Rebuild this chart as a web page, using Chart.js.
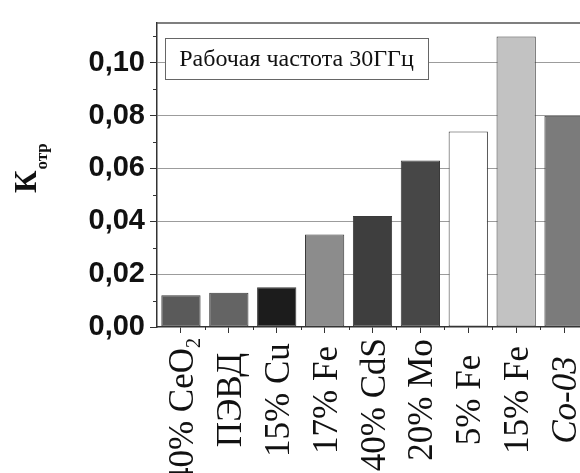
<!DOCTYPE html>
<html>
<head>
<meta charset="utf-8">
<script src="https://cdn.jsdelivr.net/npm/chart.js@4"></script>
<style>
html,body{margin:0;padding:0;background:#fff;overflow:hidden;width:580px;height:473px;}
#wrap{position:absolute;left:0;top:0;width:600px;height:473px;}
</style>
</head>
<body>
<div id="wrap"><canvas id="c" width="600" height="473" style="width:600px;height:473px"></canvas></div>
<script>
const categories = ['40% CeO₂', 'ПЭВД', '15% Cu', '17% Fe', '40% CdS', '20% Mo', '5% Fe', '15% Fe', 'Co-03'];
const italicCategories = ['Co-03'];
const values = [0.012, 0.013, 0.015, 0.035, 0.042, 0.063, 0.074, 0.110, 0.080];
const barColors = ['#5a5a5a', '#646464', '#1c1c1c', '#8c8c8c', '#3e3e3e', '#474747', '#ffffff', '#c2c2c2', '#7b7b7b'];
const yTickValues = [0, 0.02, 0.04, 0.06, 0.08, 0.10];
const yTickLabels = ['0,00', '0,02', '0,04', '0,06', '0,08', '0,10'];
const yMinorValues = [0.01, 0.03, 0.05, 0.07, 0.09, 0.11];
const yTitleMain = 'К';
const yTitleSub = 'отр';
const noteText = 'Рабочая частота 30ГГц';

const serif = '"Liberation Serif", "Times New Roman", serif';
const sans = '"Liberation Sans", Arial, sans-serif';

const decorPlugin = {
  id: 'decor',
  afterDraw(chart) {
    const ctx = chart.ctx;
    const ca = chart.chartArea;
    const xs = chart.scales.x, ys = chart.scales.y;
    ctx.save();
    // top frame line
    ctx.strokeStyle = '#555';
    ctx.lineWidth = 1.5;
    ctx.beginPath();
    ctx.moveTo(ca.left, ca.top + 0.5);
    ctx.lineTo(ca.right, ca.top + 0.5);
    ctx.stroke();
    // y minor ticks
    ctx.strokeStyle = '#333';
    ctx.lineWidth = 1;
    yMinorValues.forEach(v => {
      const y = Math.round(ys.getPixelForValue(v)) + 0.5;
      ctx.beginPath();
      ctx.moveTo(ca.left - 4, y);
      ctx.lineTo(ca.left, y);
      ctx.stroke();
    });
    // x minor ticks at category boundaries
    for (let i = 1; i < categories.length; i++) {
      const x = Math.round((xs.getPixelForValue(i - 1) + xs.getPixelForValue(i)) / 2) + 0.5;
      ctx.beginPath();
      ctx.moveTo(x, ca.bottom);
      ctx.lineTo(x, ca.bottom + 3);
      ctx.stroke();
    }
    // note box
    ctx.fillStyle = '#fff';
    ctx.fillRect(165, 38, 263, 41);
    ctx.strokeStyle = '#666';
    ctx.lineWidth = 1;
    ctx.strokeRect(165.5, 38.5, 263, 41);
    ctx.fillStyle = '#111';
    ctx.font = '24px ' + serif;
    ctx.textAlign = 'center';
    ctx.textBaseline = 'alphabetic';
    ctx.fillText(noteText, 296.5, 66);
    // x labels (rotated, centred below the axis, kept clear of the tick zone)
    const labelCentre = 400, labelTopMin = 338;
    categories.forEach((lab, i) => {
      const x = xs.getPixelForValue(i);
      const it = italicCategories.includes(lab) ? 'italic ' : '';
      const big = it + '35px ' + serif;
      const small = it + '20px ' + serif;
      let parts = [];
      let buf = '';
      for (const ch of lab) {
        if (ch === '₂') { if (buf) parts.push([buf, false]); buf = ''; parts.push(['2', true]); }
        else buf += ch;
      }
      if (buf) parts.push([buf, false]);
      let w = 0;
      parts.forEach(p => { ctx.font = p[1] ? small : big; w += ctx.measureText(p[0]).width; });
      const top = Math.max(labelCentre - w / 2, labelTopMin);
      ctx.save();
      ctx.translate(x, 0);
      ctx.rotate(-Math.PI / 2);
      ctx.fillStyle = '#111';
      ctx.textBaseline = 'alphabetic';
      ctx.textAlign = 'left';
      let px = -(top + w);
      parts.forEach(p => {
        ctx.font = p[1] ? small : big;
        ctx.fillText(p[0], px, p[1] ? 19 : 12);
        px += ctx.measureText(p[0]).width;
      });
      ctx.restore();
    });
    // y title
    ctx.save();
    ctx.translate(36, 193);
    ctx.rotate(-Math.PI / 2);
    ctx.fillStyle = '#111';
    ctx.textAlign = 'left';
    ctx.textBaseline = 'alphabetic';
    ctx.font = 'bold 31px ' + serif;
    ctx.fillText(yTitleMain, 0, 0);
    const kw = ctx.measureText(yTitleMain).width;
    ctx.font = 'bold 17px ' + serif;
    ctx.fillText(yTitleSub, kw + 1, 11);
    ctx.restore();
    ctx.restore();
  }
};

new Chart(document.getElementById('c'), {
  type: 'bar',
  data: {
    labels: categories,
    datasets: [{
      data: values,
      backgroundColor: barColors,
      borderColor: '#3a3a3a',
      borderWidth: 1,
      borderSkipped: false,
      barPercentage: 0.82,
      categoryPercentage: 1.0
    }]
  },
  options: {
    responsive: false,
    devicePixelRatio: 1,
    animation: false,
    layout: { padding: { left: 0, right: 12, top: 18, bottom: 0 } },
    plugins: { legend: { display: false }, tooltip: { enabled: false }, title: { display: false } },
    scales: {
      x: {
        offset: true,
        grid: { display: true, drawOnChartArea: false, drawTicks: true, tickLength: 6, tickColor: '#333', offset: false },
        border: { display: true, color: '#333', width: 1.5 },
        ticks: { display: false },
        afterFit(s) { s.height = 146; }
      },
      y: {
        min: 0,
        max: 0.1153,
        afterBuildTicks(s) { s.ticks = yTickValues.map(v => ({ value: v })); },
        grid: {
          color: ctx => (ctx.tick && ctx.tick.value === 0) ? 'rgba(0,0,0,0)' : '#9c9c9c',
          lineWidth: 1,
          tickColor: '#333',
          tickLength: 7,
          drawTicks: true
        },
        border: { display: true, color: '#333', width: 1.5 },
        ticks: {
          padding: 5,
          color: '#111',
          font: { family: sans, size: 29, weight: 'bold' },
          callback: (v, i) => yTickLabels[i]
        },
        afterFit(s) { s.width = 157; }
      }
    }
  },
  plugins: [decorPlugin]
});
</script>
</body>
</html>
